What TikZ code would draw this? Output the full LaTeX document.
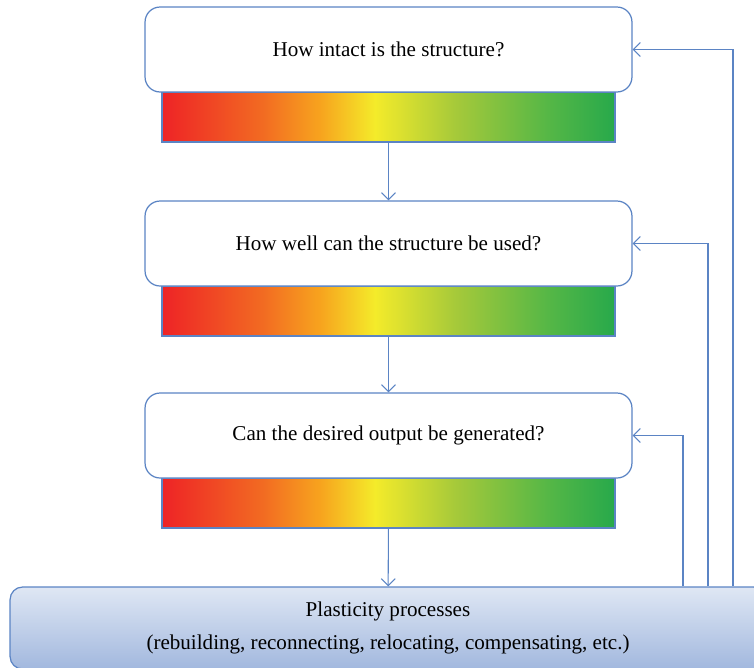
\documentclass[tikz,border=0pt]{standalone}
\usepackage{fontspec}
\setmainfont{Liberation Serif}
\usetikzlibrary{arrows.meta}

\definecolor{lineblue}{HTML}{5B84C4}
\definecolor{heatred}{HTML}{EE2326}
\definecolor{heatorange}{HTML}{F26A22}
\definecolor{heatgold}{HTML}{F7A41E}
\definecolor{heatyellow}{HTML}{F4EB2A}
\definecolor{heatlime}{HTML}{A5C93A}
\definecolor{heatleaf}{HTML}{56B746}
\definecolor{heatgreen}{HTML}{27A94B}
\definecolor{plasttop}{HTML}{DFE7F4}
\definecolor{plastbottom}{HTML}{A2B8DE}

\pgfdeclarehorizontalshading{heatbar}{100bp}{color(0bp)=(heatred); color(25bp)=(heatred); color(36bp)=(heatorange); color(42.5bp)=(heatgold); color(48.5bp)=(heatyellow); color(57.5bp)=(heatlime); color(67.5bp)=(heatleaf); color(75bp)=(heatgreen); color(100bp)=(heatgreen)}

\begin{document}
\begin{tikzpicture}[x=0.02cm, y=-0.02cm, font=\fontsize{12}{14}\selectfont,
    question/.style={draw=lineblue, line width=0.7pt, rounded corners=0.3cm, fill=white, minimum width=9.74cm, minimum height=1.7cm},
    scalebar/.style={draw=lineblue, line width=0.7pt, shading=heatbar, minimum width=9.06cm, minimum height=1cm},
    plastbox/.style={draw=lineblue, line width=0.7pt, rounded corners=0.25cm, top color=plasttop, bottom color=plastbottom, align=center, minimum width=15.12cm, minimum height=1.64cm},
    flow/.style={draw=lineblue, line width=0.6pt, -{Straight Barb[length=1.4mm, width=2.8mm]}}]
    \useasboundingbox (0,0) rectangle (754,667);
    \clip (0,0) rectangle (754,667);

    \node[scalebar]  (bar1)  at (388.5, 117.0)  {};
    \node[scalebar]  (bar2)  at (388.5, 311.0)  {};
    \node[scalebar]  (bar3)  at (388.5, 503.0)  {};

    \node[question]  (q1)    at (388.5,  49.5)  {How intact is the structure?};
    \node[question]  (q2)    at (388.5, 243.5)  {How well can the structure be used?};
    \node[question]  (q3)    at (388.5, 435.5)  {Can the desired output be generated?};

    \node[plastbox]  (plast) at (388.0, 628.0)  {Plasticity processes \\[5pt] (rebuilding, reconnecting, relocating, compensating, etc.)};

    \coordinate (loop1) at (733, 0);
    \coordinate (loop2) at (708, 0);
    \coordinate (loop3) at (683, 0);

    \draw[flow] (bar1) -- (q2);
    \draw[flow] (bar2) -- (q3);
    \draw[flow] (bar3) -- (plast);

    \draw[flow] (plast.north -| loop1) |- (q1.east);
    \draw[flow] (plast.north -| loop2) |- (q2.east);
    \draw[flow] (plast.north -| loop3) |- (q3.east);
\end{tikzpicture}
\end{document}
